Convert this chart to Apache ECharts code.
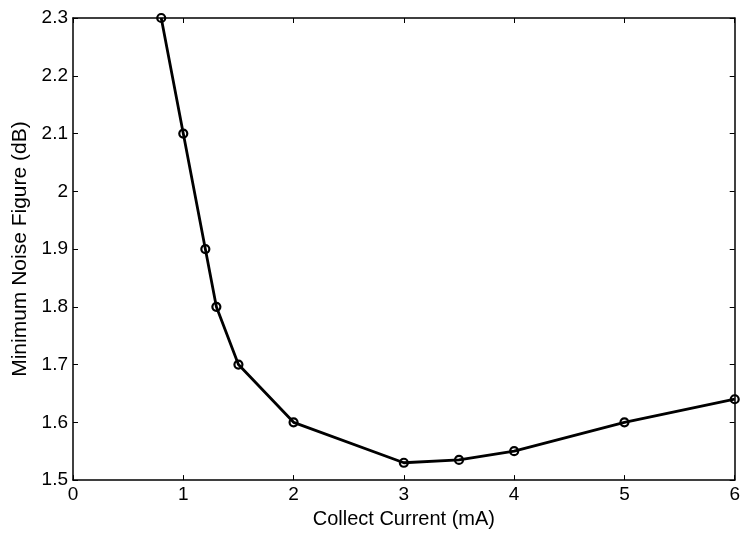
<!DOCTYPE html>
<html><head><meta charset="utf-8">
<script src="https://cdn.jsdelivr.net/npm/echarts@6/dist/echarts.min.js"></script>
<style>html,body{margin:0;padding:0;background:#fff}#c{width:743px;height:534px}</style>
</head><body><div id="c"></div>
<script>
var current = [0.8, 1, 1.2, 1.3, 1.5, 2, 3, 3.5, 4, 5, 6];
var noiseFigure = [2.3, 2.1, 1.9, 1.8, 1.7, 1.6, 1.53, 1.535, 1.55, 1.6, 1.64];
var xName = 'Collect Current (mA)';
var yName = 'Minimum Noise Figure (dB)';

var chart = echarts.init(document.getElementById('c'), null, {renderer: 'canvas'});
var ff = 'Liberation Sans, Arial, sans-serif';
var lineStyle = {color: '#000', width: 1.5};
var tickStyle = {show: true, inside: true, length: 5, lineStyle: {color: '#000', width: 1}};
chart.setOption({
  animation: false,
  backgroundColor: '#fff',
  grid: {left: 73, right: 5, top: 18, bottom: 51, containLabel: false},
  xAxis: [{
    type: 'value', min: 0, max: 6, interval: 1, position: 'bottom',
    name: xName, nameLocation: 'middle', nameGap: 25,
    nameTextStyle: {fontFamily: ff, fontSize: 20, color: '#000'},
    axisLine: {show: true, onZero: false, lineStyle: lineStyle},
    axisTick: tickStyle,
    axisLabel: {fontFamily: ff, fontSize: 19, color: '#000', margin: 5},
    splitLine: {show: false}
  }, {
    type: 'value', min: 0, max: 6, interval: 1, position: 'top',
    axisLine: {show: true, onZero: false, lineStyle: lineStyle},
    axisTick: tickStyle, axisLabel: {show: false}, splitLine: {show: false}
  }],
  yAxis: [{
    type: 'value', min: 1.5, max: 2.3, interval: 0.1, position: 'left',
    name: yName, nameLocation: 'middle', nameGap: 42, nameRotate: 90,
    nameTextStyle: {fontFamily: ff, fontSize: 21, color: '#000'},
    axisLine: {show: true, onZero: false, lineStyle: lineStyle},
    axisTick: tickStyle,
    axisLabel: {fontFamily: ff, fontSize: 19, color: '#000', margin: 5,
      formatter: function (v) { return String(Math.round(v * 10) / 10); }},
    splitLine: {show: false}
  }, {
    type: 'value', min: 1.5, max: 2.3, interval: 0.1, position: 'right',
    axisLine: {show: true, onZero: false, lineStyle: lineStyle},
    axisTick: tickStyle, axisLabel: {show: false}, splitLine: {show: false}
  }],
  series: [{
    type: 'line',
    data: current.map(function (x, i) { return [x, noiseFigure[i]]; }),
    symbol: 'circle', symbolSize: 8, showAllSymbol: true,
    lineStyle: {color: '#000', width: 2.8},
    itemStyle: {color: 'rgba(0,0,0,0)', borderColor: '#000', borderWidth: 2.2},
    clip: false
  }]
});
</script></body></html>
